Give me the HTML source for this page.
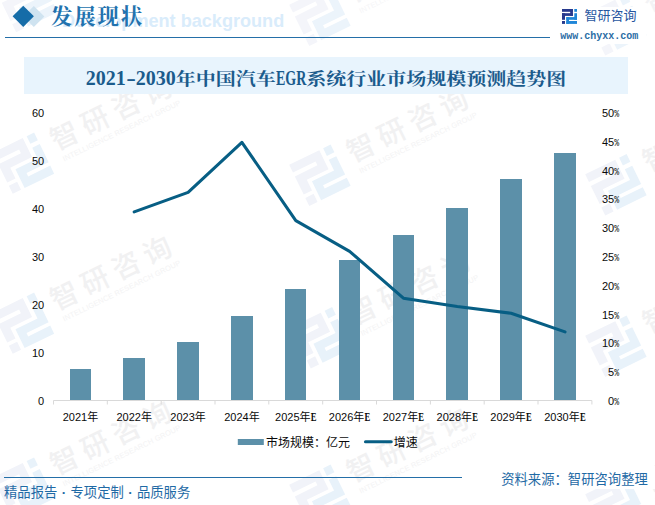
<!DOCTYPE html>
<html lang="zh-CN">
<head>
<meta charset="utf-8">
<title>发展现状</title>
<style>
html,body{margin:0;padding:0;background:#fff;}
body{width:655px;height:505px;position:relative;overflow:hidden;font-family:"Liberation Sans","Noto Sans CJK SC",sans-serif;}
.abs{position:absolute;white-space:nowrap;}
#heading{left:51px;top:2.2px;font-family:"Liberation Serif","Noto Serif CJK SC",serif;font-weight:700;font-size:21.4px;letter-spacing:1.9px;line-height:30px;color:#2272ae;}
#ghost{left:62px;top:8px;font-family:"Liberation Sans",sans-serif;font-weight:bold;font-size:18.1px;line-height:26px;color:#d9ecfb;}
#hline{left:5px;top:36.7px;width:545px;height:1.1px;background:#246fa8;}
#brand{left:584.5px;top:6px;font-size:13px;line-height:20px;color:#27569f;}
#url{left:560.3px;top:29.5px;font-family:"Liberation Mono",monospace;font-weight:bold;font-size:10px;line-height:14px;color:#2a6da5;}
#band{left:24px;top:57px;width:604px;height:37px;background:#e8f4fd;}
#title{left:24px;top:60px;width:604px;height:37px;line-height:37px;text-align:center;font-family:"Liberation Serif","Noto Serif CJK SC",serif;font-weight:bold;font-size:20px;color:#1b5b8c;}
.cj{display:inline-block;transform:scaleY(.87);transform-origin:50% 69%;}
.hy{display:inline-block;width:10px;text-align:center;transform:scaleX(1.45);}
.egr{display:inline-block;width:30.5px;text-align:left;transform:scaleX(.70);transform-origin:0 50%;}
#fline{left:3.5px;top:476.8px;width:458px;height:1.1px;background:#246fa8;}
#fleft{left:4px;top:483.8px;font-size:13.33px;line-height:18px;color:#1f6aa5;word-spacing:.65px;}
.jp{font-family:"Noto Sans CJK JP",sans-serif;}
#fright{left:501.2px;top:469.6px;font-size:13.33px;line-height:18px;color:#1f6aa5;}
svg text{font-family:"Liberation Sans","Noto Sans CJK SC",sans-serif;}
svg text.pc{font-family:"Liberation Mono",monospace;font-size:11px;}
svg text.e{font-family:"Liberation Serif",serif;font-weight:bold;font-size:12px;}
</style>
</head>
<body>
<svg class="abs" style="left:0;top:0" width="655" height="505" viewBox="0 0 655 505">
<g transform="translate(-3.9 -8.8) rotate(-26) scale(3.07)"><path fill="#f4f5fa" d="M0 0h10.9v6.9H3v3.9H0V4.2h8.2V2.8H0zM0 12h3v2.9H0z"/><path fill="#ecf4fb" d="M12.3 0H15v2.8h-2.7zM12.3 4.2H15v6.6H7v1.2h8v2.9H4.3V8.1h8z"/></g>
<g transform="translate(-3.9 -8.8) rotate(-26)" fill="#f3f3f5"><text x="57.8" y="26.2" font-size="28" font-weight="500" letter-spacing="6.4">智研咨询</text><text x="60.5" y="39.3" font-size="7.4" fill="#f5f5f7" textLength="130" lengthAdjust="spacing">INTELLIGENCE RESEARCH GROUP</text></g>
<g transform="translate(-7.3 152.7) rotate(-26) scale(3.07)"><path fill="#f1f3f9" d="M0 0h10.9v6.9H3v3.9H0V4.2h8.2V2.8H0zM0 12h3v2.9H0z"/><path fill="#e8f2fa" d="M12.3 0H15v2.8h-2.7zM12.3 4.2H15v6.6H7v1.2h8v2.9H4.3V8.1h8z"/></g>
<g transform="translate(-7.3 152.7) rotate(-26)" fill="#f1f1f2"><text x="57.8" y="26.2" font-size="28" font-weight="500" letter-spacing="6.4">智研咨询</text><text x="60.5" y="39.3" font-size="7.4" fill="#f3f3f4" textLength="130" lengthAdjust="spacing">INTELLIGENCE RESEARCH GROUP</text></g>
<g transform="translate(-7.3 312.7) rotate(-26) scale(3.07)"><path fill="#f1f3f9" d="M0 0h10.9v6.9H3v3.9H0V4.2h8.2V2.8H0zM0 12h3v2.9H0z"/><path fill="#e8f2fa" d="M12.3 0H15v2.8h-2.7zM12.3 4.2H15v6.6H7v1.2h8v2.9H4.3V8.1h8z"/></g>
<g transform="translate(-7.3 312.7) rotate(-26)" fill="#f1f1f2"><text x="57.8" y="26.2" font-size="28" font-weight="500" letter-spacing="6.4">智研咨询</text><text x="60.5" y="39.3" font-size="7.4" fill="#f3f3f4" textLength="130" lengthAdjust="spacing">INTELLIGENCE RESEARCH GROUP</text></g>
<g transform="translate(-7.3 477.6) rotate(-26) scale(3.07)"><path fill="#f1f3f9" d="M0 0h10.9v6.9H3v3.9H0V4.2h8.2V2.8H0zM0 12h3v2.9H0z"/><path fill="#e8f2fa" d="M12.3 0H15v2.8h-2.7zM12.3 4.2H15v6.6H7v1.2h8v2.9H4.3V8.1h8z"/></g>
<g transform="translate(-7.3 477.6) rotate(-26)" fill="#f1f1f2"><text x="57.8" y="26.2" font-size="28" font-weight="500" letter-spacing="6.4">智研咨询</text><text x="60.5" y="39.3" font-size="7.4" fill="#f3f3f4" textLength="130" lengthAdjust="spacing">INTELLIGENCE RESEARCH GROUP</text></g>
<g transform="translate(289.2 4.8) rotate(-26) scale(3.07)"><path fill="#f4f5fa" d="M0 0h10.9v6.9H3v3.9H0V4.2h8.2V2.8H0zM0 12h3v2.9H0z"/><path fill="#ecf4fb" d="M12.3 0H15v2.8h-2.7zM12.3 4.2H15v6.6H7v1.2h8v2.9H4.3V8.1h8z"/></g>
<g transform="translate(289.2 4.8) rotate(-26)" fill="#f3f3f5"><text x="57.8" y="26.2" font-size="28" font-weight="500" letter-spacing="6.4">智研咨询</text><text x="60.5" y="39.3" font-size="7.4" fill="#f5f5f7" textLength="130" lengthAdjust="spacing">INTELLIGENCE RESEARCH GROUP</text></g>
<g transform="translate(289.2 164.8) rotate(-26) scale(3.07)"><path fill="#f1f3f9" d="M0 0h10.9v6.9H3v3.9H0V4.2h8.2V2.8H0zM0 12h3v2.9H0z"/><path fill="#e8f2fa" d="M12.3 0H15v2.8h-2.7zM12.3 4.2H15v6.6H7v1.2h8v2.9H4.3V8.1h8z"/></g>
<g transform="translate(289.2 164.8) rotate(-26)" fill="#f1f1f2"><text x="57.8" y="26.2" font-size="28" font-weight="500" letter-spacing="6.4">智研咨询</text><text x="60.5" y="39.3" font-size="7.4" fill="#f3f3f4" textLength="130" lengthAdjust="spacing">INTELLIGENCE RESEARCH GROUP</text></g>
<g transform="translate(290.7 327.3) rotate(-26) scale(3.07)"><path fill="#f1f3f9" d="M0 0h10.9v6.9H3v3.9H0V4.2h8.2V2.8H0zM0 12h3v2.9H0z"/><path fill="#e8f2fa" d="M12.3 0H15v2.8h-2.7zM12.3 4.2H15v6.6H7v1.2h8v2.9H4.3V8.1h8z"/></g>
<g transform="translate(290.7 327.3) rotate(-26)" fill="#f1f1f2"><text x="57.8" y="26.2" font-size="28" font-weight="500" letter-spacing="6.4">智研咨询</text><text x="60.5" y="39.3" font-size="7.4" fill="#f3f3f4" textLength="130" lengthAdjust="spacing">INTELLIGENCE RESEARCH GROUP</text></g>
<g transform="translate(289.2 484.8) rotate(-26) scale(3.07)"><path fill="#f1f3f9" d="M0 0h10.9v6.9H3v3.9H0V4.2h8.2V2.8H0zM0 12h3v2.9H0z"/><path fill="#e8f2fa" d="M12.3 0H15v2.8h-2.7zM12.3 4.2H15v6.6H7v1.2h8v2.9H4.3V8.1h8z"/></g>
<g transform="translate(289.2 484.8) rotate(-26)" fill="#f1f1f2"><text x="57.8" y="26.2" font-size="28" font-weight="500" letter-spacing="6.4">智研咨询</text><text x="60.5" y="39.3" font-size="7.4" fill="#f3f3f4" textLength="130" lengthAdjust="spacing">INTELLIGENCE RESEARCH GROUP</text></g>
<g transform="translate(585.2 14.3) rotate(-26) scale(3.07)"><path fill="#f4f5fa" d="M0 0h10.9v6.9H3v3.9H0V4.2h8.2V2.8H0zM0 12h3v2.9H0z"/><path fill="#ecf4fb" d="M12.3 0H15v2.8h-2.7zM12.3 4.2H15v6.6H7v1.2h8v2.9H4.3V8.1h8z"/></g>
<g transform="translate(585.2 14.3) rotate(-26)" fill="#f3f3f5"><text x="57.8" y="26.2" font-size="28" font-weight="500" letter-spacing="6.4">智研咨询</text><text x="60.5" y="39.3" font-size="7.4" fill="#f5f5f7" textLength="130" lengthAdjust="spacing">INTELLIGENCE RESEARCH GROUP</text></g>
<g transform="translate(585.2 174.3) rotate(-26) scale(3.07)"><path fill="#f1f3f9" d="M0 0h10.9v6.9H3v3.9H0V4.2h8.2V2.8H0zM0 12h3v2.9H0z"/><path fill="#e8f2fa" d="M12.3 0H15v2.8h-2.7zM12.3 4.2H15v6.6H7v1.2h8v2.9H4.3V8.1h8z"/></g>
<g transform="translate(585.2 174.3) rotate(-26)" fill="#f1f1f2"><text x="57.8" y="26.2" font-size="28" font-weight="500" letter-spacing="6.4">智研咨询</text><text x="60.5" y="39.3" font-size="7.4" fill="#f3f3f4" textLength="130" lengthAdjust="spacing">INTELLIGENCE RESEARCH GROUP</text></g>
<g transform="translate(585.2 335.8) rotate(-26) scale(3.07)"><path fill="#f1f3f9" d="M0 0h10.9v6.9H3v3.9H0V4.2h8.2V2.8H0zM0 12h3v2.9H0z"/><path fill="#e8f2fa" d="M12.3 0H15v2.8h-2.7zM12.3 4.2H15v6.6H7v1.2h8v2.9H4.3V8.1h8z"/></g>
<g transform="translate(585.2 335.8) rotate(-26)" fill="#f1f1f2"><text x="57.8" y="26.2" font-size="28" font-weight="500" letter-spacing="6.4">智研咨询</text><text x="60.5" y="39.3" font-size="7.4" fill="#f3f3f4" textLength="130" lengthAdjust="spacing">INTELLIGENCE RESEARCH GROUP</text></g>
<g transform="translate(585.2 494.3) rotate(-26) scale(3.07)"><path fill="#f1f3f9" d="M0 0h10.9v6.9H3v3.9H0V4.2h8.2V2.8H0zM0 12h3v2.9H0z"/><path fill="#e8f2fa" d="M12.3 0H15v2.8h-2.7zM12.3 4.2H15v6.6H7v1.2h8v2.9H4.3V8.1h8z"/></g>
<g transform="translate(585.2 494.3) rotate(-26)" fill="#f1f1f2"><text x="57.8" y="26.2" font-size="28" font-weight="500" letter-spacing="6.4">智研咨询</text><text x="60.5" y="39.3" font-size="7.4" fill="#f3f3f4" textLength="130" lengthAdjust="spacing">INTELLIGENCE RESEARCH GROUP</text></g>
</svg>
<!-- header -->
<svg class="abs" style="left:0;top:0" width="60" height="34" viewBox="0 0 60 34">
  <polygon points="23.3,16.4 33.8,5.9 44.4,16.4 33.8,26.9" fill="#cfe3f0"/>
  <polygon points="12.6,16.3 23.25,5.7 33.9,16.3 23.25,26.9" fill="#156ca8"/>
</svg>
<div id="ghost" class="abs">Development background</div>
<div id="heading" class="abs">发展现状</div>
<div id="hline" class="abs"></div>
<div class="abs" style="left:556px;top:7px;width:90px;height:37px;background:#fff"></div>
<svg class="abs" style="left:561.9px;top:9px" width="15" height="15" viewBox="0 0 15 15">
  <g fill="#27398d">
    <rect x="0" y="0" width="10.9" height="2.8"/>
    <rect x="8.2" y="0" width="2.7" height="6.9"/>
    <rect x="0" y="4.2" width="10.9" height="2.7"/>
    <rect x="0" y="4.2" width="3" height="6.6"/>
    <rect x="0" y="12" width="3" height="2.9"/>
  </g>
  <g fill="#1f86d8">
    <rect x="12.3" y="0" width="2.7" height="2.8"/>
    <rect x="12.3" y="4.2" width="2.7" height="6.6"/>
    <rect x="4.3" y="8.1" width="10.7" height="2.7"/>
    <rect x="4.3" y="8.1" width="2.7" height="6.8"/>
    <rect x="4.3" y="12" width="10.7" height="2.9"/>
  </g>
</svg>
<div id="brand" class="abs">智研咨询</div>
<div id="url" class="abs">www.chyxx.com</div>

<!-- title -->
<div id="band" class="abs"></div>
<div id="title" class="abs">2021<span class="hy">-</span>2030<span class="cj">年中国汽车</span><span class="egr">EGR</span><span class="cj">系统行业市场规模预测趋势图</span></div>

<!-- chart -->
<svg class="abs" style="left:0;top:95px" width="655" height="370" viewBox="0 95 655 370">
<g fill="#5c90a9">
<rect x="70" y="369" width="21" height="31"/>
<rect x="123" y="358" width="22" height="42"/>
<rect x="177" y="342" width="22" height="58"/>
<rect x="231" y="316" width="22" height="84"/>
<rect x="285" y="289" width="21" height="111"/>
<rect x="339" y="260" width="21" height="140"/>
<rect x="393" y="235" width="21" height="165"/>
<rect x="446" y="208" width="22" height="192"/>
<rect x="500" y="179" width="22" height="221"/>
<rect x="554" y="153" width="22" height="247"/>
</g>
<g stroke="#d9d9d9" stroke-width="1" fill="none"><path d="M53.5 400.5H591.9"/><path d="M53.5 400.5v4M107.3 400.5v4M161.2 400.5v4M215.0 400.5v4M268.8 400.5v4M322.7 400.5v4M376.5 400.5v4M430.4 400.5v4M484.2 400.5v4M538.0 400.5v4M591.9 400.5v4"/></g>
<polyline points="134.2,211.9 188.1,192.4 241.9,142.3 295.8,220.6 349.6,251.3 403.4,298.2 457.3,306.5 511.1,313.3 565.0,331.9" fill="none" stroke="#075e84" stroke-width="3.1" stroke-linecap="round" stroke-linejoin="round"/>
<g font-size="11" fill="#0a0a0a">
<text x="32" y="117">60</text>
<text x="32" y="165">50</text>
<text x="32" y="213">40</text>
<text x="32" y="261">30</text>
<text x="32" y="309">20</text>
<text x="32" y="357">10</text>
<text x="38.1" y="405">0</text>
<text x="602" y="117.0">50</text><text class="pc" transform="translate(614.3 117.0) scale(.74 1)">%</text>
<text x="602" y="145.8">45</text><text class="pc" transform="translate(614.3 145.8) scale(.74 1)">%</text>
<text x="602" y="174.6">40</text><text class="pc" transform="translate(614.3 174.6) scale(.74 1)">%</text>
<text x="602" y="203.4">35</text><text class="pc" transform="translate(614.3 203.4) scale(.74 1)">%</text>
<text x="602" y="232.2">30</text><text class="pc" transform="translate(614.3 232.2) scale(.74 1)">%</text>
<text x="602" y="261.0">25</text><text class="pc" transform="translate(614.3 261.0) scale(.74 1)">%</text>
<text x="602" y="289.8">20</text><text class="pc" transform="translate(614.3 289.8) scale(.74 1)">%</text>
<text x="602" y="318.6">15</text><text class="pc" transform="translate(614.3 318.6) scale(.74 1)">%</text>
<text x="602" y="347.4">10</text><text class="pc" transform="translate(614.3 347.4) scale(.74 1)">%</text>
<text x="608.1" y="376.2">5</text><text class="pc" transform="translate(614.3 376.2) scale(.74 1)">%</text>
<text x="608.1" y="405.0">0</text><text class="pc" transform="translate(614.3 405.0) scale(.74 1)">%</text>
</g>
<g font-size="11" fill="#0a0a0a" text-anchor="middle">
<text x="80.4" y="420.5">2021年</text>
<text x="134.2" y="420.5">2022年</text>
<text x="188.1" y="420.5">2023年</text>
<text x="241.9" y="420.5">2024年</text>
<text x="292.8" y="420.5">2025年</text><text class="e" text-anchor="start" transform="translate(310.7 420.5) scale(.72 1)">E</text>
<text x="346.6" y="420.5">2026年</text><text class="e" text-anchor="start" transform="translate(364.5 420.5) scale(.72 1)">E</text>
<text x="400.4" y="420.5">2027年</text><text class="e" text-anchor="start" transform="translate(418.3 420.5) scale(.72 1)">E</text>
<text x="454.3" y="420.5">2028年</text><text class="e" text-anchor="start" transform="translate(472.2 420.5) scale(.72 1)">E</text>
<text x="508.1" y="420.5">2029年</text><text class="e" text-anchor="start" transform="translate(526.0 420.5) scale(.72 1)">E</text>
<text x="562.0" y="420.5">2030年</text><text class="e" text-anchor="start" transform="translate(579.9 420.5) scale(.72 1)">E</text>
</g>
<rect x="237.8" y="439" width="26" height="6" fill="#5c90a9"/>
<text x="266" y="446.5" font-size="12" fill="#0a0a0a">市场规模：亿元</text>
<path d="M365.5 441.8H391.2" stroke="#075e84" stroke-width="3.1" stroke-linecap="round"/>
<text x="393.7" y="446.5" font-size="12" fill="#0a0a0a">增速</text>
</svg>

<!-- footer -->
<div id="fline" class="abs"></div>
<div id="fleft" class="abs">精品报告 <b>·</b> 专项定制 <b>·</b> 品质服务</div>
<div class="abs" style="left:497px;top:466px;width:158px;height:23px;background:#fff"></div>
<div id="fright" class="abs">资料来源<span class="jp">：</span>智研咨询整理</div>
</body>
</html>
